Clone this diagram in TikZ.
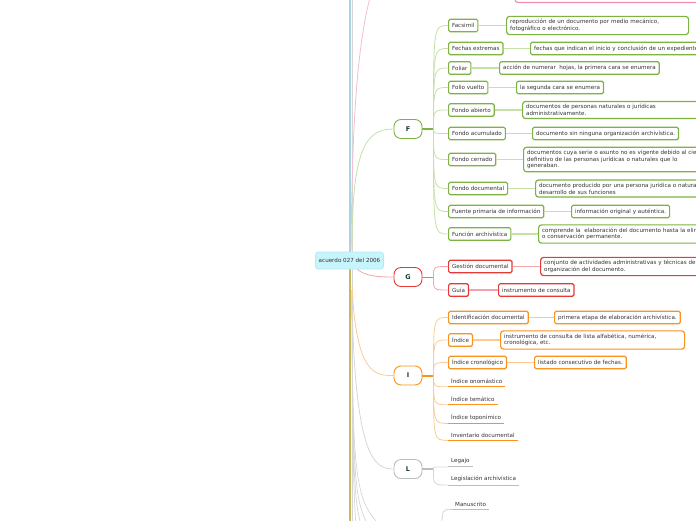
\documentclass[tikz,border=0pt]{standalone}
\usepackage{fontspec}
\setmainfont{DejaVu Sans}
\definecolor{fgreen}{HTML}{7CB342}
\definecolor{lgreen}{HTML}{C5E1A5}
\definecolor{fred}{HTML}{E53935}
\definecolor{lred}{HTML}{F4A3AA}
\definecolor{forange}{HTML}{F7931E}
\definecolor{lorange}{HTML}{FCCB93}
\definecolor{fgrey}{HTML}{BDBDBD}
\definecolor{lgrey}{HTML}{D6D6D6}
\definecolor{rootfill}{HTML}{C8F4FC}
\definecolor{rootline}{HTML}{B2EBF7}
\definecolor{txt}{HTML}{333333}
\definecolor{lettertxt}{HTML}{16372E}
\definecolor{trunkblue}{HTML}{A6D5E0}
\definecolor{trunkolive}{HTML}{C9B85A}
\definecolor{pinkline}{HTML}{F48FB1}
\begin{document}
\begin{tikzpicture}[x=1pt, y=-1pt, font=\fontsize{5.6}{6.6}\selectfont, text=txt,
  letter/.style={draw, fill=white, rounded corners=7pt, minimum width=28pt, minimum height=19pt, line width=0.9pt, font=\fontsize{6.5}{7}\selectfont\bfseries, text=lettertxt},
  term/.style={draw, fill=white, rounded corners=1.5pt, line width=1.2pt, anchor=west, inner xsep=3.5pt, inner ysep=0pt, minimum height=12.5pt},
  note/.style={term, rounded corners=3pt, align=left, inner ysep=3pt},
  plain/.style={anchor=west, inner xsep=3pt, inner ysep=3pt}]
\useasboundingbox (0,0) rectangle (696,520);
\clip (0,0) rectangle (696,520);
% trunk
\draw[trunkblue, line width=1.2] (350,-5) -- (350,261);
\draw[lgrey, line width=0.8] (352.5,-5) -- (352.5,261);
\draw[trunkolive, line width=1.2] (350,261) -- (350,525);
\draw[lgrey, line width=0.8] (352.5,261) -- (352.5,525);
\foreach \e in {356, 361, 368, 380}
  \draw[lgrey, line width=0.7] (352,290) .. controls (352.5,470) and (354,500) .. (\e,525);
\draw[pinkline!60, line width=0.8] (351,258) .. controls (352,110) and (358,40) .. (372,-10);
\draw[pinkline, line width=1.2, rounded corners=3pt] (515,-10) -- (515,2.5) -- (710,2.5);
\coordinate (T_F) at (352,250);
\coordinate (T_G) at (352,262);
\coordinate (T_I) at (352,285);
\coordinate (T_L) at (352,300);
% F
\node[letter, draw=fgreen] (F) at (408,129) {F};
\draw[lgreen, line width=0.8] (T_F) .. controls (352,150) and (365,129) .. (F.west);
\draw[fgreen, line width=2] (F.east) -- ++(11,0) coordinate (F_hub);
\node[term, draw=fgreen] (F_1) at (448,25.5) {Facsimil};
\draw[lgreen, line width=0.8] (F_hub) .. controls (F_hub |- F_1.west) .. (F_1.west);
\node[note, draw=fgreen, text width=175pt] (F_1_n) at (506,25.5) {reproducción de un documento por medio mecánico,\\ fotográfico o electrónico.};
\draw[lgreen, line width=1.2] (F_1) -- (F_1_n);
\node[term, draw=fgreen] (F_2) at (448,48.5) {Fechas extremas};
\draw[lgreen, line width=0.8] (F_hub) .. controls (F_hub |- F_2.west) .. (F_2.west);
\node[term, draw=fgreen, text width=200pt] (F_2_n) at (530,48.5) {fechas que indican el inicio y conclusión de un expediente};
\draw[lgreen, line width=1.2] (F_2) -- (F_2_n);
\node[term, draw=fgreen] (F_3) at (448,68) {Foliar};
\draw[lgreen, line width=0.8] (F_hub) .. controls (F_hub |- F_3.west) .. (F_3.west);
\node[term, draw=fgreen] (F_3_n) at (499,68) {acción de numerar \ hojas, la primera cara se enumera};
\draw[lgreen, line width=1.2] (F_3) -- (F_3_n);
\node[term, draw=fgreen] (F_4) at (448,87.5) {Folio vuelto};
\draw[lgreen, line width=0.8] (F_hub) .. controls (F_hub |- F_4.west) .. (F_4.west);
\node[term, draw=fgreen] (F_4_n) at (516,87.5) {la segunda cara se enumera};
\draw[lgreen, line width=1.2] (F_4) -- (F_4_n);
\node[term, draw=fgreen] (F_5) at (448,110) {Fondo abierto};
\draw[lgreen, line width=0.8] (F_hub) .. controls (F_hub |- F_5.west) .. (F_5.west);
\node[note, draw=fgreen, text width=200pt] (F_5_n) at (522,110) {documentos de personas naturales o jurídicas\\ administrativamente.};
\draw[lgreen, line width=1.2] (F_5) -- (F_5_n);
\node[term, draw=fgreen] (F_6) at (448,133.5) {Fondo acumulado};
\draw[lgreen, line width=0.8] (F_hub) .. controls (F_hub |- F_6.west) .. (F_6.west);
\node[term, draw=fgreen] (F_6_n) at (532,133.5) {documento sin ninguna organización archivística.};
\draw[lgreen, line width=1.2] (F_6) -- (F_6_n);
\node[term, draw=fgreen] (F_7) at (448,159.5) {Fondo cerrado};
\draw[lgreen, line width=0.8] (F_hub) .. controls (F_hub |- F_7.west) .. (F_7.west);
\node[note, draw=fgreen, text width=200pt] (F_7_n) at (523,159.5) {documentos cuya serie o asunto no es vigente debido al cierre\\ definitivo de las personas jurídicas o naturales que lo\\ generaban.};
\draw[lgreen, line width=1.2] (F_7) -- (F_7_n);
\node[term, draw=fgreen] (F_8) at (448,188.5) {Fondo documental};
\draw[lgreen, line width=0.8] (F_hub) .. controls (F_hub |- F_8.west) .. (F_8.west);
\node[note, draw=fgreen, text width=200pt] (F_8_n) at (535,188.5) {documento producido por una persona jurídica o natural\\ desarrollo de sus funciones};
\draw[lgreen, line width=1.2] (F_8) -- (F_8_n);
\node[term, draw=fgreen] (F_9) at (448,211.5) {Fuente primaria de información};
\draw[lgreen, line width=0.8] (F_hub) .. controls (F_hub |- F_9.west) .. (F_9.west);
\node[term, draw=fgreen] (F_9_n) at (571,211.5) {información original y auténtica.};
\draw[lgreen, line width=1.2] (F_9) -- (F_9_n);
\node[term, draw=fgreen] (F_10) at (448,234) {Función archivística};
\draw[lgreen, line width=0.8] (F_hub) .. controls (F_hub |- F_10.west) .. (F_10.west);
\node[note, draw=fgreen, text width=200pt] (F_10_n) at (538,234) {comprende la \ elaboración del documento hasta la eliminación\\ o conservación permanente.};
\draw[lgreen, line width=1.2] (F_10) -- (F_10_n);
% G
\node[letter, draw=fred] (G) at (408,277) {G};
\draw[lred, line width=0.8] (T_G) .. controls (358,276) and (375,277) .. (G.west);
\draw[fred!70, line width=1] (G.east) -- ++(11,0) coordinate (G_hub);
\node[term, draw=fred] (G_1) at (448,266.5) {Gestión documental};
\draw[lred, line width=0.8] (G_hub) .. controls (G_hub |- G_1.west) .. (G_1.west);
\node[note, draw=fred, text width=200pt] (G_1_n) at (540,266.5) {conjunto de actividades administrativas y técnicas de la\\ organización del documento.};
\draw[lred, line width=1.2] (G_1) -- (G_1_n);
\node[term, draw=fred] (G_2) at (448,290) {Guía};
\draw[lred, line width=0.8] (G_hub) .. controls (G_hub |- G_2.west) .. (G_2.west);
\node[term, draw=fred] (G_2_n) at (498,290) {instrumento de consulta};
\draw[lred, line width=1.2] (G_2) -- (G_2_n);
% I
\node[letter, draw=forange] (I) at (408,375.5) {I};
\draw[lorange, line width=0.8] (T_I) .. controls (356,375) and (375,375.5) .. (I.west);
\draw[forange, line width=2] (I.east) -- ++(11,0) coordinate (I_hub);
\node[term, draw=forange] (I_1) at (448,317.5) {Identificación documental};
\draw[lorange, line width=0.8] (I_hub) .. controls (I_hub |- I_1.west) .. (I_1.west);
\node[term, draw=forange] (I_1_n) at (554,317.5) {primera etapa de elaboración archivística.};
\draw[lorange, line width=1.2] (I_1) -- (I_1_n);
\node[term, draw=forange] (I_2) at (448,340) {Índice};
\draw[lorange, line width=0.8] (I_hub) .. controls (I_hub |- I_2.west) .. (I_2.west);
\node[note, draw=forange, text width=177pt] (I_2_n) at (500,340) {instrumento de consulta de lista alfabética, numérica,\\ cronológica, etc.};
\draw[lorange, line width=1.2] (I_2) -- (I_2_n);
\node[term, draw=forange] (I_3) at (448,362.5) {Índice cronológico};
\draw[lorange, line width=0.8] (I_hub) .. controls (I_hub |- I_3.west) .. (I_3.west);
\node[term, draw=forange] (I_3_n) at (534,362.5) {listado consecutivo de fechas.};
\draw[lorange, line width=1.2] (I_3) -- (I_3_n);
\node[plain] (I_4) at (448,381) {Índice onomástico};
\draw[forange, line width=1] (I_4.south west) -- (I_4.south east);
\draw[lorange, line width=0.8] (I_hub) .. controls (I_hub |- I_4.south west) .. (I_4.south west);
\node[plain] (I_5) at (448,399) {Índice temático};
\draw[forange, line width=1] (I_5.south west) -- (I_5.south east);
\draw[lorange, line width=0.8] (I_hub) .. controls (I_hub |- I_5.south west) .. (I_5.south west);
\node[plain] (I_6) at (448,417) {Índice toponímico};
\draw[forange, line width=1] (I_6.south west) -- (I_6.south east);
\draw[lorange, line width=0.8] (I_hub) .. controls (I_hub |- I_6.south west) .. (I_6.south west);
\node[plain] (I_7) at (448,435) {Inventario documental};
\draw[forange, line width=1] (I_7.south west) -- (I_7.south east);
\draw[lorange, line width=0.8] (I_hub) .. controls (I_hub |- I_7.south west) .. (I_7.south west);
% L
\node[letter, draw=fgrey] (L) at (408,469) {L};
\draw[lgrey, line width=0.8] (T_L) .. controls (355,460) and (375,469) .. (L.west);
\draw[fgrey, line width=1.5] (L.east) -- ++(11,0) coordinate (L_hub);
\node[plain] (L_1) at (448,461) {Legajo};
\draw[fgrey, line width=1] (L_1.south west) -- (L_1.south east);
\draw[lgrey, line width=0.8] (L_hub) .. controls (L_hub |- L_1.south west) .. (L_1.south west);
\node[plain] (L_2) at (448,479) {Legislación archivística};
\draw[fgrey, line width=1] (L_2.south west) -- (L_2.south east);
\draw[lgrey, line width=0.8] (L_hub) .. controls (L_hub |- L_2.south west) .. (L_2.south west);
% M
\coordinate (M_hub) at (442,530);
\node[plain] (M_1) at (452,504) {Manuscrito};
\draw[fgrey, line width=1] (M_1.south west) -- (M_1.south east);
\draw[lgrey, line width=0.8] (M_hub) .. controls (M_hub |- M_1.south west) .. (M_1.south west);
% root
\node[draw=rootline, fill=rootfill, rounded corners=3pt, minimum width=67pt, minimum height=17pt, line width=0.8] (root) at (349.5,260.5) {acuerdo 027 del 2006};
\end{tikzpicture}
\end{document}
